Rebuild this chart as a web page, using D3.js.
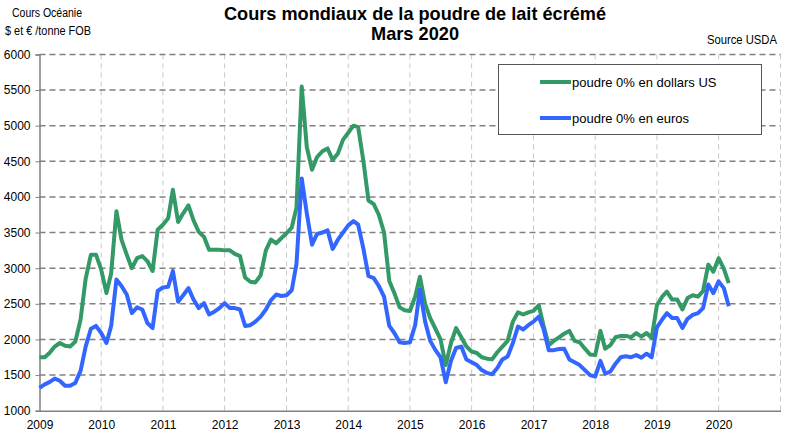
<!DOCTYPE html>
<head>
  <meta charset="utf-8">
  <script src="https://d3js.org/d3.v7.min.js"></script>
  <style>
    body { margin: 0; background: #fff; }
    text { font-family: "Liberation Sans", Arial, sans-serif; }
  </style>
</head>
<body>
  <svg width="800" height="441"></svg>
  <script>
    // monthly prices, Jan 2009 -> Mar 2020
    const startMonth = new Date(2009, 0, 1);
    const usd = [
      1750, 1750, 1810, 1900, 1950, 1910, 1900, 1970, 2280, 2850, 3190, 3190,
      2980, 2650, 2930, 3800, 3400, 3190, 3000, 3140, 3170, 3100, 2960, 3540,
      3610, 3700, 4100, 3650, 3770, 3880, 3670, 3510, 3440, 3260, 3260, 3260,
      3250, 3250, 3200, 3170, 2870, 2810, 2800, 2900, 3250, 3400, 3350, 3420,
      3490, 3570, 3850, 5550, 4700, 4380, 4560, 4640, 4680, 4520, 4610, 4800,
      4900, 5000, 4980, 4500, 3950, 3900, 3750, 3500, 2820, 2650, 2450, 2410,
      2400, 2600, 2880, 2500, 2300, 2150, 2000, 1640, 1950, 2160, 2030, 1900,
      1830, 1810, 1750, 1730, 1720, 1820, 1900, 1980, 2250, 2380, 2350, 2380,
      2400, 2480, 2200, 1920, 1980, 2030, 2080, 2120, 1980, 1960, 1870, 1790,
      1780, 2120, 1870, 1920, 2030, 2050, 2050, 2030, 2090, 2040, 2090, 2020,
      2480, 2600, 2670, 2560, 2560, 2420, 2580, 2620, 2600, 2680, 3050, 2950,
      3140, 2990, 2790
    ];
    const eur = [
      1320, 1370, 1400, 1450, 1420, 1350, 1350, 1390, 1560, 1900, 2150, 2190,
      2090, 1950, 2190, 2840, 2750, 2630, 2370, 2450, 2420, 2230, 2160, 2680,
      2730, 2740, 2960, 2530, 2620, 2720, 2560, 2440, 2510, 2350, 2390, 2440,
      2510, 2440, 2440, 2420, 2190, 2200, 2250, 2320, 2420, 2550, 2630, 2610,
      2620, 2690, 3060, 4260, 3770, 3330, 3480, 3500, 3530, 3270, 3400, 3500,
      3600, 3660, 3610, 3270, 2890, 2860, 2750, 2600, 2190, 2090, 1960, 1950,
      1960, 2200, 2700, 2250, 1980, 1850, 1750, 1400, 1700, 1880, 1900, 1720,
      1680, 1640, 1570, 1530, 1510, 1600, 1720, 1760, 1950, 2180, 2140, 2200,
      2250, 2320, 2150, 1850, 1850, 1865, 1870, 1720, 1680, 1640, 1570, 1500,
      1480, 1700, 1520, 1550, 1660, 1750, 1765, 1750, 1780, 1745, 1800, 1750,
      2170, 2280, 2370, 2300, 2300, 2160, 2290, 2345, 2370, 2440, 2770, 2650,
      2815, 2720, 2465
    ];
    const yTicks = [1000, 1500, 2000, 2500, 3000, 3500, 4000, 4500, 5000, 5500, 6000];
    const years = [2009, 2010, 2011, 2012, 2013, 2014, 2015, 2016, 2017, 2018, 2019, 2020, 2021];
    const seriesNames = ["poudre 0% en dollars US", "poudre 0% en euros"];
    const seriesColors = ["#339966", "#3366ff"];

    const months = usd.map((_, i) => d3.timeMonth.offset(startMonth, i));

    const svg = d3.select("svg");
    const plotL = 39.5, plotR = 780.5, plotT = 54.4, plotB = 410.7;

    const x = d3.scaleTime()
      .domain([new Date(2009, 0, 1), new Date(2021, 0, 1)])
      .range([plotL, plotR]);
    const y = d3.scaleLinear().domain([1000, 6000]).range([plotB, plotT]);

    // vertical grid (light)
    svg.append("g")
      .selectAll("line")
      .data(years.slice(1))
      .join("line")
      .attr("x1", d => x(new Date(d, 0, 1)))
      .attr("x2", d => x(new Date(d, 0, 1)))
      .attr("y1", plotT)
      .attr("y2", plotB)
      .attr("stroke", "#c8c8c8")
      .attr("stroke-width", 1)
      .attr("stroke-dasharray", "5,4");

    // horizontal grid (dark)
    svg.append("g")
      .selectAll("line")
      .data(yTicks.slice(1))
      .join("line")
      .attr("x1", plotL)
      .attr("x2", plotR)
      .attr("y1", d => y(d))
      .attr("y2", d => y(d))
      .attr("stroke", "#808080")
      .attr("stroke-width", 1.5)
      .attr("stroke-dasharray", "6,4");

    const font = '"Liberation Sans", Arial, sans-serif';

    // y axis
    const yAxis = svg.append("g")
      .attr("transform", `translate(${plotL},0)`)
      .call(d3.axisLeft(y).tickValues(yTicks).tickSize(4).tickPadding(5).tickFormat(d3.format("d")));
    yAxis.select(".domain").attr("stroke", "#808080").attr("stroke-width", 1.5);
    yAxis.selectAll(".tick line").attr("stroke", "#808080");
    yAxis.selectAll("text").attr("font-size", 12).attr("fill", "#000").style("font-family", font);

    // x axis
    const xAxis = svg.append("g")
      .attr("transform", `translate(0,${plotB})`)
      .call(d3.axisBottom(x)
        .tickValues(years.slice(0, -1).map(yr => new Date(yr, 0, 1)))
        .tickSize(0).tickPadding(10)
        .tickFormat(d3.timeFormat("%Y")));
    xAxis.select(".domain").attr("stroke", "#808080").attr("stroke-width", 1.5);
    xAxis.selectAll("text").attr("font-size", 12).attr("fill", "#000").style("font-family", font);

    // lines
    const line = d3.line()
      .x((d, i) => x(months[i]))
      .y(d => y(d));

    [usd, eur].forEach((vals, k) => {
      svg.append("path")
        .datum(vals)
        .attr("fill", "none")
        .attr("stroke", seriesColors[k])
        .attr("stroke-width", 4)
        .attr("stroke-linejoin", "round")
        .attr("d", line);
    });

    // legend
    const lg = svg.append("g");
    lg.append("rect")
      .attr("x", 498.5).attr("y", 64.5)
      .attr("width", 263).attr("height", 70)
      .attr("fill", "#fff").attr("stroke", "#555").attr("stroke-width", 1);
    seriesNames.forEach((name, k) => {
      const ly = 82 + k * 36;
      lg.append("line")
        .attr("x1", 540).attr("x2", 571)
        .attr("y1", ly).attr("y2", ly)
        .attr("stroke", seriesColors[k]).attr("stroke-width", 4);
      lg.append("text")
        .attr("x", 572).attr("y", ly + 5)
        .attr("font-size", 13)
        .text(name);
    });

    // titles
    svg.append("text")
      .attr("x", 415).attr("y", 20)
      .attr("text-anchor", "middle")
      .attr("font-size", 19).attr("font-weight", "bold")
      .attr("textLength", 382).attr("lengthAdjust", "spacingAndGlyphs")
      .text("Cours mondiaux de la poudre de lait écrémé");
    svg.append("text")
      .attr("x", 415).attr("y", 40)
      .attr("text-anchor", "middle")
      .attr("font-size", 19).attr("font-weight", "bold")
      .attr("textLength", 88).attr("lengthAdjust", "spacingAndGlyphs")
      .text("Mars 2020");

    svg.append("text")
      .attr("x", 47).attr("y", 17)
      .attr("text-anchor", "middle")
      .attr("font-size", 12)
      .attr("textLength", 70).attr("lengthAdjust", "spacingAndGlyphs")
      .text("Cours Océanie");
    svg.append("text")
      .attr("x", 48).attr("y", 35)
      .attr("text-anchor", "middle")
      .attr("font-size", 12)
      .attr("textLength", 86).attr("lengthAdjust", "spacingAndGlyphs")
      .text("$ et € /tonne FOB");
    svg.append("text")
      .attr("x", 777).attr("y", 44)
      .attr("text-anchor", "end")
      .attr("font-size", 12)
      .attr("textLength", 70).attr("lengthAdjust", "spacingAndGlyphs")
      .text("Source USDA");
  </script>
</body>
